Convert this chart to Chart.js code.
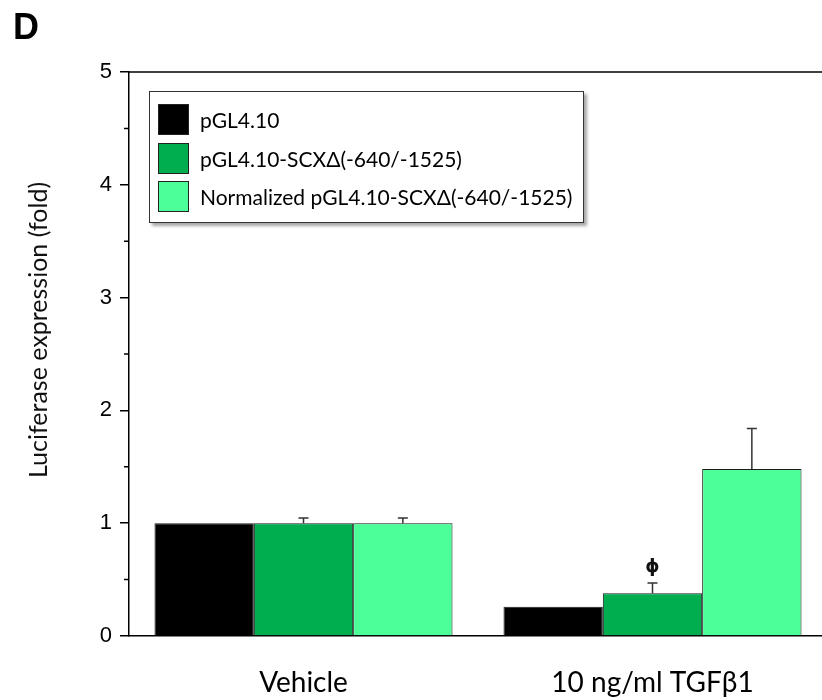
<!DOCTYPE html>
<html>
<head>
<meta charset="utf-8">
<title>Luciferase expression</title>
<script src="https://cdn.jsdelivr.net/npm/chart.js@4"></script>
<style>
  html, body { margin: 0; padding: 0; background: #fff; overflow: hidden; }
  #wrap { position: relative; width: 840px; height: 700px; }
  #panel {
    position: absolute; left: 13px; top: 6px;
    font: bold 36px "Liberation Sans", Arial, sans-serif; color: #000;
  }
  #legend {
    position: absolute; left: 149px; top: 91px; width: 433px; height: 130px;
    border: 1px solid #333; background: #fff;
    box-shadow: 3px 3px 3px rgba(0, 0, 0, 0.35);
    font: 21px Lato, sans-serif; color: #000;
  }
  #legend .row { position: absolute; left: 8px; display: flex; align-items: center; }
  #legend .sw { width: 29px; height: 29px; border: 1px solid #222; margin-right: 11px; box-sizing: content-box; }
</style>
</head>
<body>
<div id="wrap">
  <canvas id="chart"></canvas>
  <div id="panel">D</div>
  <div id="legend"></div>
</div>
<script>
const categories = ['Vehicle', '10 ng/ml TGFβ1'];
const seriesNames = ['pGL4.10', 'pGL4.10-SCXΔ(-640/-1525)', 'Normalized pGL4.10-SCXΔ(-640/-1525)'];
const seriesColors = ['#000000', '#00ad4f', '#4dff99'];

const basic = [1.0, 0.26];
const scxDeletion = [1.0, 0.38];
const normalized = [1.0, 1.48];

// upward SEM bars
const basicErr = [0, 0];
const scxDeletionErr = [0.045, 0.09];
const normalizedErr = [0.045, 0.36];

// significance markers drawn above the error bars
const basicMarks = ['', ''];
const scxDeletionMarks = ['', 'ϕ'];
const normalizedMarks = ['', ''];

const yTicks = [0, 1, 2, 3, 4, 5];
const yMinorTicks = [0.5, 1.5, 2.5, 3.5, 4.5];

const values = [basic, scxDeletion, normalized];
const errors = [basicErr, scxDeletionErr, normalizedErr];
const marks = [basicMarks, scxDeletionMarks, normalizedMarks];

// legend box
const legendEl = document.getElementById('legend');
seriesNames.forEach((name, i) => {
  const row = document.createElement('div');
  row.className = 'row';
  row.style.top = (12 + i * 38.5) + 'px';
  const sw = document.createElement('div');
  sw.className = 'sw';
  sw.style.background = seriesColors[i];
  const label = document.createElement('span');
  label.textContent = name;
  row.appendChild(sw);
  row.appendChild(label);
  legendEl.appendChild(row);
});

const frameAndErrors = {
  id: 'frameAndErrors',
  afterDatasetsDraw(chart) {
    const ctx = chart.ctx;
    const y = chart.scales.y;
    const area = chart.chartArea;
    ctx.save();

    // error bars + markers
    chart.data.datasets.forEach((ds, i) => {
      const meta = chart.getDatasetMeta(i);
      meta.data.forEach((bar, j) => {
        const err = errors[i][j];
        const top = y.getPixelForValue(ds.data[j] + err);
        if (err > 0) {
          ctx.strokeStyle = '#333';
          ctx.lineWidth = 1.5;
          ctx.beginPath();
          ctx.moveTo(bar.x, bar.y);
          ctx.lineTo(bar.x, top);
          ctx.moveTo(bar.x - 5, top);
          ctx.lineTo(bar.x + 5, top);
          ctx.stroke();
        }
        const m = marks[i][j];
        if (m) {
          ctx.fillStyle = '#111';
          ctx.font = 'bold 18px "DejaVu Sans", sans-serif';
          ctx.textAlign = 'center';
          ctx.textBaseline = 'bottom';
          ctx.fillText(m, bar.x, top - 7);
        }
      });
    });

    // top frame line
    ctx.strokeStyle = '#000';
    ctx.lineWidth = 1.5;
    ctx.beginPath();
    ctx.moveTo(area.left, area.top);
    ctx.lineTo(chart.width, area.top);
    ctx.stroke();

    // minor ticks on the value axis
    ctx.beginPath();
    yMinorTicks.forEach(v => {
      const py = y.getPixelForValue(v);
      ctx.moveTo(area.left - 5, py);
      ctx.lineTo(area.left, py);
    });
    ctx.stroke();

    // axis title
    ctx.fillStyle = '#111';
    ctx.font = '25px Lato, sans-serif';
    ctx.textAlign = 'center';
    ctx.textBaseline = 'middle';
    ctx.translate(39, 330);
    ctx.rotate(-Math.PI / 2);
    ctx.fillText('Luciferase expression (fold)', 0, 0);
    ctx.restore();
  }
};

new Chart(document.getElementById('chart'), {
  type: 'bar',
  data: {
    labels: categories,
    datasets: values.map((data, i) => ({
      label: seriesNames[i],
      data: data,
      backgroundColor: seriesColors[i],
      borderColor: '#1a1a1a',
      borderWidth: 1,
      borderSkipped: 'bottom',
      barPercentage: 1,
      categoryPercentage: 0.854
    }))
  },
  options: {
    responsive: true,
    maintainAspectRatio: false,
    animation: false,
    layout: { padding: { top: 72, right: 13, left: 0, bottom: 0 } },
    plugins: {
      legend: { display: false },
      tooltip: { enabled: false }
    },
    scales: {
      x: {
        grid: { display: false, drawTicks: false },
        border: { display: true, color: '#000', width: 1.5 },
        ticks: {
          padding: 30,
          color: '#000',
          font: { family: 'Lato', size: 28 }
        },
        afterFit(scale) { scale.height = 64; }
      },
      y: {
        min: 0,
        max: 5,
        afterBuildTicks(scale) { scale.ticks = yTicks.map(v => ({ value: v })); },
        grid: {
          drawOnChartArea: false,
          drawTicks: true,
          tickLength: 9,
          color: '#000',
          lineWidth: 1.5
        },
        border: { display: true, color: '#000', width: 1.5 },
        ticks: {
          padding: 8,
          color: '#000',
          font: { family: '"Liberation Sans", Arial', size: 22 }
        },
        afterFit(scale) { scale.width = 129; }
      }
    }
  },
  plugins: [frameAndErrors]
});
</script>
</body>
</html>
